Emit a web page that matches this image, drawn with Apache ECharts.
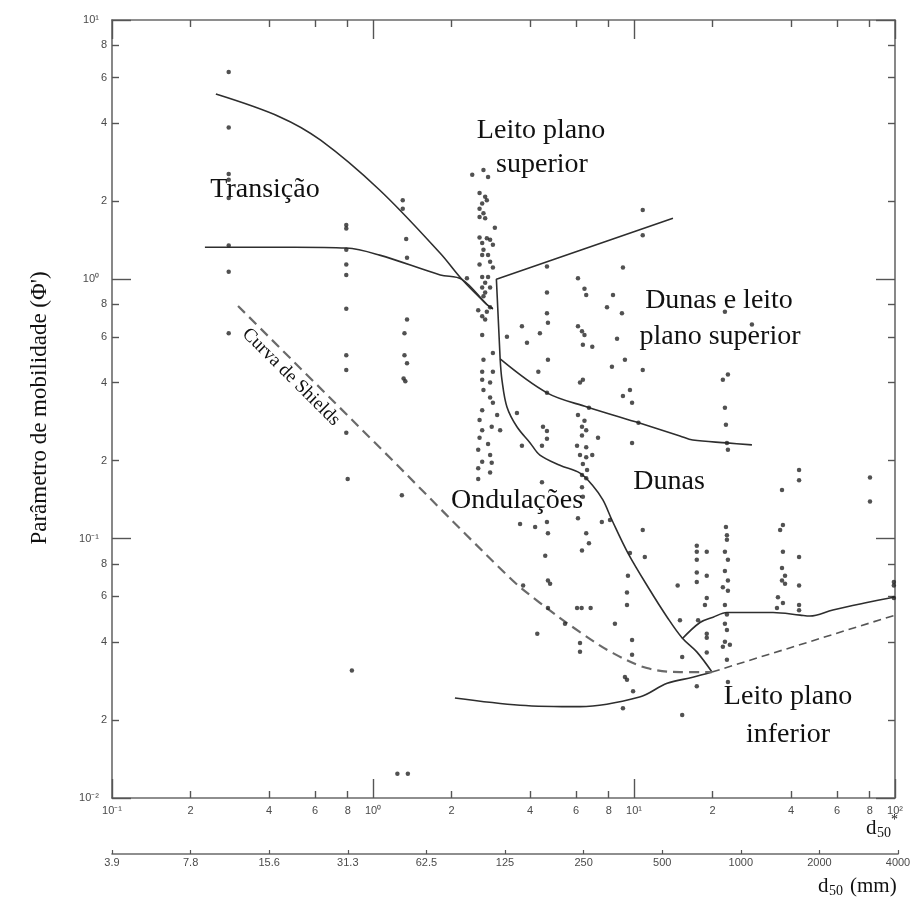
<!DOCTYPE html>
<html>
<head>
<meta charset="utf-8">
<script src="https://cdn.jsdelivr.net/npm/echarts@6/dist/echarts.min.js"></script>
<style>html,body{margin:0;padding:0;background:#fff}#c{width:914px;height:897px}</style>
</head>
<body>
<div id="c"></div>
<script>
// ---- tick labels ----
const xMinorVals = [0.2,0.4,0.6,0.8,2,4,6,8,20,40,60,80];
const xMinorLabels = ['2','4','6','8','2','4','6','8','2','4','6','8'];
const yMinorVals = [0.02,0.04,0.06,0.08,0.2,0.4,0.6,0.8,2,4,6,8];
const yMinorLabels = ['2','4','6','8','2','4','6','8','2','4','6','8'];
const decadeExp = [-2,-1,0,1,2];
const decadeLabels = ['10\u207B\u00B2','10\u207B\u00B9','10\u2070','10\u00B9','10\u00B2'];
const secTickLabels = ['3.9','7.8','15.6','31.3','62.5','125','250','500','1000','2000','4000'];

// ---- regime boundary curves [d50*, Phi'] ----
const transUpper = [[0.25,5.18],[0.44,4.23],[0.63,3.44],[1.06,2.21],[1.81,1.26],[2.19,1.0],[2.73,0.80],[2.88,0.77]];
const transLower = [[0.227,1.33],[0.50,1.33],[0.79,1.32],[1.06,1.24],[1.81,1.04],[2.19,1.0],[2.73,0.80],[2.88,0.77]];
const upperFlat = [[3.07,0.493],[2.97,1.0],[14.1,1.72]];
const duneUpper = [[3.07,0.493],[4.64,0.365],[6.61,0.322],[10.5,0.279],[15.0,0.249],[16.8,0.240],[22.7,0.234],[28.3,0.230]];
const rippleDune = [[3.07,0.493],[3.12,0.409],[3.26,0.322],[3.56,0.270],[4.00,0.234],[4.36,0.210],[5.20,0.192],[6.21,0.179],[6.92,0.161],[7.60,0.141],[8.23,0.118],[9.48,0.088],[11.5,0.0634],[13.4,0.0498],[15.3,0.0414],[17.4,0.0366],[19.9,0.0306]];
const duneLower = [[15.3,0.0411],[17.9,0.0475],[20.1,0.0498],[22.7,0.0519],[25.5,0.0519],[34.1,0.0519],[43.3,0.0507],[47.2,0.0503],[57.8,0.0531],[78.1,0.0567],[100,0.0596]];
const lowerBed = [[2.06,0.0243],[3.66,0.0228],[6.21,0.0225],[10.5,0.0245],[13.4,0.0277],[16.8,0.0292],[19.9,0.0306]];
const lowerBedDashed = [[19.9,0.0306],[100,0.0507]];
const shields = [[0.304,0.789],[1.064,0.224],[3.35,0.0705],[4.36,0.0566],[6.21,0.0436],[8.31,0.0362],[11.2,0.0317],[15.0,0.0306],[19.9,0.0306]];

// ---- observed data points [d50*, Phi'] ----
const ptsLeft = [
[0.28,6.3],[0.28,3.85],[0.28,2.55],[0.28,2.42],[0.28,2.06],[0.28,1.35],[0.28,1.07],[0.28,0.62],
[0.79,1.62],[0.79,1.57],[0.79,1.30],[0.79,1.14],[0.79,1.04],[0.79,0.77],[0.79,0.51],[0.79,0.447],[0.79,0.256],[0.80,0.17],[0.83,0.031],
[1.30,2.02],[1.30,1.87],[1.34,1.43],[1.35,1.21],[1.35,0.70],[1.32,0.62],[1.32,0.51],[1.35,0.475],[1.31,0.415],[1.33,0.405],[1.29,0.147],[1.24,0.0124],[1.36,0.0124]
];
const ptsColumn = [
[2.40,2.53],[2.65,2.64],[2.76,2.48],[2.56,2.15],[2.69,2.08],[2.62,1.96],[2.73,2.02],[2.56,1.87],[2.65,1.80],[2.56,1.74],[2.69,1.72],[2.93,1.58],
[2.56,1.45],[2.73,1.44],[2.81,1.42],[2.62,1.38],[2.88,1.36],[2.65,1.30],[2.62,1.24],[2.76,1.24],[2.81,1.17],[2.56,1.14],[2.88,1.11],[2.62,1.02],
[2.76,1.02],[2.29,1.01],[2.69,0.97],[2.81,0.93],[2.62,0.93],[2.69,0.89],[2.65,0.86],[2.81,0.78],[2.53,0.76],[2.73,0.75],[2.62,0.72],[2.69,0.70],[2.62,0.61],
[2.88,0.52],[2.65,0.49],[2.62,0.44],[2.88,0.44],[2.62,0.41],[2.81,0.40],[2.65,0.374],[2.81,0.35],[2.88,0.334],[2.62,0.313],[2.99,0.30],[2.56,0.287],
[2.85,0.27],[2.62,0.262],[3.07,0.262],[2.56,0.245],[2.76,0.232],[2.53,0.22],[2.81,0.21],[2.62,0.198],[2.85,0.196],[2.53,0.187],[2.81,0.18],[2.53,0.17]
];
const ptsUpper = [
[10.8,1.85],[10.8,1.48],[9.07,1.11],[4.64,1.12],[6.10,1.01],[6.46,0.92],[6.56,0.87],[8.31,0.87],[7.88,0.78],[8.99,0.74],[4.64,0.89],[4.64,0.74],
[4.68,0.68],[3.72,0.66],[4.36,0.62],[3.26,0.60],[6.10,0.66],[6.32,0.63],[6.46,0.61],[3.89,0.57],[6.37,0.56],[6.92,0.55],[8.61,0.59],[9.23,0.49],
[8.23,0.46],[4.68,0.49],[4.30,0.44],[6.37,0.41],[6.21,0.40],[4.64,0.365],[9.65,0.374],[9.07,0.355],[9.83,0.334],[6.72,0.32],[10.8,0.447],
[22.3,0.75],[28.3,0.67],[22.9,0.43],[21.9,0.41],[22.3,0.32],[22.5,0.275],[22.7,0.234],[22.9,0.22],[10.4,0.28],[9.83,0.234]
];
const ptsDunes = [
[3.56,0.305],[6.10,0.30],[6.46,0.285],[4.48,0.27],[6.32,0.27],[4.64,0.26],[6.56,0.262],[6.32,0.25],[7.28,0.245],[4.64,0.243],
[6.05,0.228],[6.56,0.225],[4.44,0.228],[3.72,0.228],[6.21,0.21],[6.56,0.206],[6.92,0.21],[6.37,0.194],[6.61,0.184],[6.32,0.176],[6.56,0.171]
];
const ptsRipples = [
[4.44,0.165],[6.32,0.158],[6.37,0.145],[3.66,0.114],[4.18,0.111],[4.64,0.116],[4.68,0.105],[6.10,0.12],[6.56,0.105],[7.53,0.116],[8.09,0.118],
[10.8,0.108],[6.72,0.096],[6.32,0.09],[4.57,0.086],[4.68,0.069],[4.77,0.067],[3.76,0.066],[9.48,0.072],[11.0,0.085],[9.65,0.088],[9.40,0.062],
[9.40,0.0555],[8.45,0.047],[9.83,0.0407],[9.83,0.0357],[9.23,0.0293],[9.40,0.0286],[9.92,0.0258],[9.07,0.0222],[4.26,0.043],[6.05,0.054],
[6.30,0.054],[6.82,0.054],[6.21,0.0396],[6.21,0.0366],[4.68,0.054],[5.44,0.047],[15.3,0.035],[15.3,0.0209],[15.0,0.0485],[14.7,0.066]
];
const ptsRight = [
[17.4,0.094],[17.4,0.089],[17.4,0.083],[19.0,0.089],[17.4,0.074],[19.0,0.072],[17.4,0.068],[19.0,0.059],[18.7,0.0555],[17.6,0.0485],
[19.0,0.043],[19.0,0.0415],[19.0,0.0364],[17.4,0.027],
[22.5,0.111],[22.7,0.103],[22.7,0.099],[22.3,0.089],[22.9,0.083],[22.3,0.075],[22.9,0.069],[21.9,0.065],[22.9,0.063],[22.3,0.0555],
[22.7,0.051],[22.3,0.047],[22.7,0.0444],[22.3,0.040],[23.3,0.039],[21.9,0.0383],[22.7,0.0341],[22.9,0.028],
[36.9,0.154],[37.2,0.113],[36.3,0.108],[37.2,0.089],[36.9,0.077],[37.9,0.072],[36.9,0.069],[37.9,0.067],[35.6,0.0595],[37.2,0.0565],[35.3,0.054],
[42.9,0.184],[42.9,0.168],[42.9,0.085],[42.9,0.066],[42.9,0.0555],[42.9,0.053],
[80.2,0.172],[80.2,0.139],[99,0.068],[99,0.066],[99,0.059]
];

// ---- helpers ----
const AX = '#6a6a6a';
const TICKC = '#555';
const LBL = {fontFamily:'Liberation Sans', fontSize:11, color:'#4a4a4a'};
function decadeFmt(v){ const e = Math.round(Math.log10(v)); const i = decadeExp.indexOf(e); return i>=0 ? decadeLabels[i] : ''; }
function minorFmt(vals, labels){ return function(v){ const i = vals.findIndex(m => Math.abs(Math.log10(m) - v) < 1e-6); return i>=0 ? labels[i] : ''; }; }
const xMinorLog = xMinorVals.map(Math.log10);
const yMinorLog = yMinorVals.map(Math.log10);

const chart = echarts.init(document.getElementById('c'), null, {renderer:'canvas'});
const lineSolid = {color:'#2e2e2e', width:1.6};
function curve(data, smooth, style){ return {type:'line', xAxisIndex:0, yAxisIndex:0, data:data, smooth:smooth, showSymbol:false, symbol:'none', lineStyle:style||lineSolid, z:3, silent:true}; }
function pts(data){ return {type:'scatter', xAxisIndex:0, yAxisIndex:0, data:data, symbol:'circle', symbolSize:4.5, itemStyle:{color:'#262626'}, z:4, silent:true}; }
function label(x, y, text, size, extra){ return Object.assign({type:'text', x:x, y:y, style:{text:text, font:size+'px "Liberation Serif"', fill:'#111', align:'center', verticalAlign:'middle'}}, extra||{}); }
function labelL(x, y, text, size){ return {type:'text', x:x, y:y, style:{text:text, font:size+'px "Liberation Serif"', fill:'#111', align:'left', verticalAlign:'middle'}}; }

const option = {
  animation:false,
  backgroundColor:'#fff',
  grid:[
    {left:112, right:19, top:20, bottom:99, containLabel:false, outerBoundsMode:'none'},
    {left:112, width:786, top:853, height:1, containLabel:false, outerBoundsMode:'none'}
  ],
  xAxis:[
    {type:'log', gridIndex:0, min:0.1, max:100, position:'bottom',
     axisLine:{onZero:false, lineStyle:{color:AX, width:1.6}},
     axisTick:{inside:true, length:19, lineStyle:{color:TICKC, width:1.4}},
     axisLabel:Object.assign({formatter:decadeFmt, margin:7}, LBL), splitLine:{show:false}},
    {type:'value', gridIndex:0, min:-1, max:2, position:'bottom',
     axisLine:{show:false, onZero:false},
     axisTick:{inside:true, length:7, customValues:xMinorLog, lineStyle:{color:TICKC, width:1.4}},
     axisLabel:Object.assign({customValues:xMinorLog, formatter:minorFmt(xMinorVals,xMinorLabels), margin:7}, LBL), splitLine:{show:false}},
    {type:'log', gridIndex:0, min:0.1, max:100, position:'top',
     axisLine:{onZero:false, lineStyle:{color:AX, width:1.6}},
     axisTick:{inside:true, length:19, lineStyle:{color:TICKC, width:1.4}},
     axisLabel:{show:false}, splitLine:{show:false}},
    {type:'value', gridIndex:0, min:-1, max:2, position:'top',
     axisLine:{show:false, onZero:false},
     axisTick:{inside:true, length:7, customValues:xMinorLog, lineStyle:{color:TICKC, width:1.4}},
     axisLabel:{show:false}, splitLine:{show:false}},
    {type:'value', gridIndex:1, min:0, max:10, interval:1, position:'bottom',
     axisLine:{onZero:false, lineStyle:{color:AX, width:1.6}},
     axisTick:{inside:true, length:4, lineStyle:{color:TICKC, width:1.2}},
     axisLabel:Object.assign({formatter:function(v){ return secTickLabels[Math.round(v)] || ''; }, margin:3}, LBL), splitLine:{show:false}}
  ],
  yAxis:[
    {type:'log', gridIndex:0, min:0.01, max:10, position:'left',
     axisLine:{onZero:false, lineStyle:{color:AX, width:1.6}},
     axisTick:{inside:true, length:19, lineStyle:{color:TICKC, width:1.4}},
     axisLabel:Object.assign({formatter:decadeFmt, margin:13}, LBL), splitLine:{show:false}},
    {type:'value', gridIndex:0, min:-2, max:1, position:'left',
     axisLine:{show:false, onZero:false},
     axisTick:{inside:true, length:7, customValues:yMinorLog, lineStyle:{color:TICKC, width:1.4}},
     axisLabel:Object.assign({customValues:yMinorLog, formatter:minorFmt(yMinorVals,yMinorLabels), margin:5}, LBL), splitLine:{show:false}},
    {type:'log', gridIndex:0, min:0.01, max:10, position:'right',
     axisLine:{onZero:false, lineStyle:{color:AX, width:1.6}},
     axisTick:{inside:true, length:19, lineStyle:{color:TICKC, width:1.4}},
     axisLabel:{show:false}, splitLine:{show:false}},
    {type:'value', gridIndex:0, min:-2, max:1, position:'right',
     axisLine:{show:false, onZero:false},
     axisTick:{inside:true, length:7, customValues:yMinorLog, lineStyle:{color:TICKC, width:1.4}},
     axisLabel:{show:false}, splitLine:{show:false}},
    {type:'value', gridIndex:1, show:false, min:0, max:1}
  ],
  series:[
    curve(transUpper, 0.35),
    curve(transLower, 0.35),
    curve(upperFlat, false),
    curve(duneUpper, 0.35),
    curve(rippleDune, 0.35),
    curve(duneLower, 0.35),
    curve(lowerBed, 0.35),
    curve(lowerBedDashed, false, {color:'#555', width:1.6, type:[8,5]}),
    curve(shields, 0.35, {color:'#6a6a6a', width:2.2, type:[10,6]}),
    pts(ptsLeft), pts(ptsColumn), pts(ptsUpper), pts(ptsDunes), pts(ptsRipples), pts(ptsRight)
  ],
  graphic:[
    label(265, 190, 'Transição', 28),
    label(541, 131, 'Leito plano', 28),
    label(542, 165, 'superior', 28),
    label(719, 301, 'Dunas e leito', 28),
    label(720, 337, 'plano superior', 28),
    label(517, 501, 'Ondulações', 28),
    label(669, 482, 'Dunas', 28),
    label(788, 697, 'Leito plano', 28),
    label(788, 735, 'inferior', 28),
    label(291, 377, 'Curva de Shields', 19, {rotation:-Math.PI/4}),
    label(40, 408, "Parâmetro de mobilidade (Φ')", 23, {rotation:Math.PI/2}),
    labelL(866, 828, 'd', 21),
    labelL(877, 833, '50', 14),
    labelL(891, 820, '*', 14),
    labelL(818, 886, 'd', 21),
    labelL(829, 891, '50', 14),
    labelL(850, 886, '(mm)', 21)
  ]
};
chart.setOption(option);
</script>
</body>
</html>
